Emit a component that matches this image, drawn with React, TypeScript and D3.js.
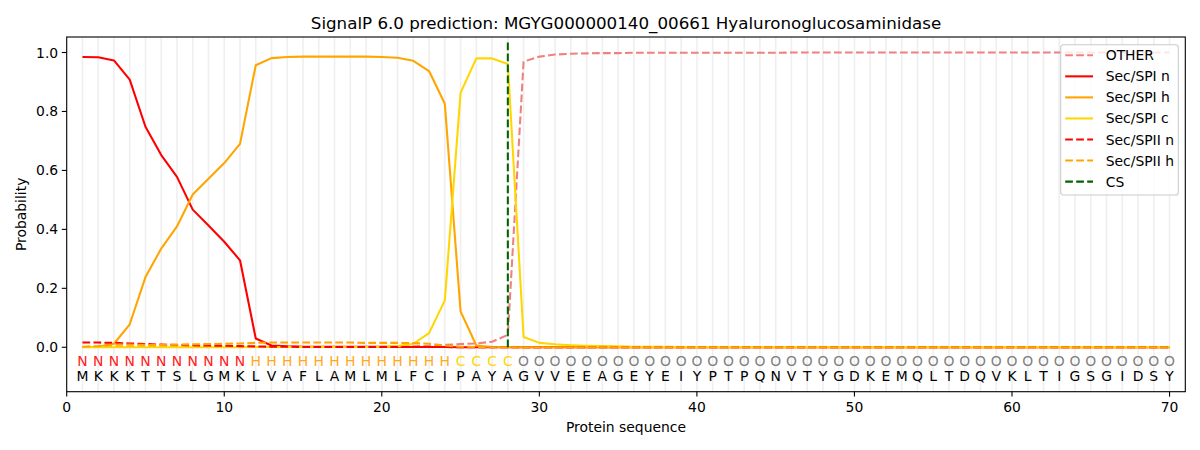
import { useEffect, useRef } from 'react';
import * as d3 from 'd3';

// ---------------------------------------------------------------------------
// Data
// ---------------------------------------------------------------------------

const TITLE = 'SignalP 6.0 prediction: MGYG000000140_00661 Hyaluronoglucosaminidase';

const SEQUENCE = 'MKKKTTSLGMKLVAFLAMLMLFCIPAYAGVVEEAGEYEIYPTPQNVTYGDKEMQLTDQVKLTIGSGIDSY'.split('');
const REGIONS = 'NNNNNNNNNNNHHHHHHHHHHHHHCCCCOOOOOOOOOOOOOOOOOOOOOOOOOOOOOOOOOOOOOOOOOO'.split('');

const OTHER = [
  0.001, 0.001, 0.001, 0.001, 0.001, 0.001, 0.001, 0.001, 0.001, 0.001,
  0.001, 0.001, 0.001, 0.001, 0.001, 0.001, 0.001, 0.001, 0.001, 0.001,
  0.002, 0.003, 0.005, 0.008, 0.011, 0.013, 0.019, 0.042, 0.969, 0.986,
  0.993, 0.996, 0.997, 0.998, 0.998, 0.999, 0.999, 0.999, 0.999, 0.999,
  0.999, 0.999, 0.999, 0.999, 0.999, 1.0, 1.0, 1.0, 1.0, 1.0,
  1.0, 1.0, 1.0, 1.0, 1.0, 1.0, 1.0, 1.0, 1.0, 1.0,
  1.0, 1.0, 1.0, 1.0, 1.0, 1.0, 1.0, 1.0, 1.0, 1.0,
];

const SPI_N = [
  0.985, 0.984, 0.973, 0.908, 0.748, 0.652, 0.578, 0.467, 0.413, 0.358,
  0.295, 0.030, 0.006, 0.003, 0.002, 0.002, 0.002, 0.002, 0.002, 0.002,
  0.002, 0.001, 0.001, 0.001, 0, 0, 0, 0, 0, 0,
  0, 0, 0, 0, 0, 0, 0, 0, 0, 0,
  0, 0, 0, 0, 0, 0, 0, 0, 0, 0,
  0, 0, 0, 0, 0, 0, 0, 0, 0, 0,
  0, 0, 0, 0, 0, 0, 0, 0, 0, 0,
];

const SPI_H = [
  0.001, 0.002, 0.012, 0.078, 0.238, 0.335, 0.410, 0.518, 0.572, 0.625,
  0.690, 0.957, 0.981, 0.985, 0.986, 0.986, 0.986, 0.986, 0.986, 0.985,
  0.982, 0.972, 0.937, 0.826, 0.122, 0.006, 0.001, 0.001, 0, 0,
  0, 0, 0, 0, 0, 0, 0, 0, 0, 0,
  0, 0, 0, 0, 0, 0, 0, 0, 0, 0,
  0, 0, 0, 0, 0, 0, 0, 0, 0, 0,
  0, 0, 0, 0, 0, 0, 0, 0, 0, 0,
];

const SPI_C = [
  0, 0, 0, 0, 0, 0, 0, 0, 0, 0,
  0, 0.001, 0.001, 0.001, 0.001, 0.001, 0.001, 0.001, 0.001, 0.002,
  0.004, 0.012, 0.048, 0.159, 0.863, 0.980, 0.980, 0.961, 0.035, 0.015,
  0.010, 0.007, 0.005, 0.004, 0.003, 0.002, 0.002, 0.002, 0.001, 0.001,
  0.001, 0.001, 0.001, 0.001, 0.001, 0.001, 0.001, 0.001, 0.001, 0.001,
  0.001, 0.001, 0.001, 0.001, 0.001, 0.001, 0.001, 0.001, 0.001, 0.001,
  0.001, 0.001, 0.001, 0.001, 0.001, 0.001, 0.001, 0.001, 0.001, 0.001,
];

const SPII_N = [
  0.016, 0.016, 0.015, 0.013, 0.011, 0.009, 0.008, 0.007, 0.006, 0.005,
  0.004, 0.003, 0.002, 0.002, 0.001, 0.001, 0.001, 0.001, 0.001, 0.001,
  0.001, 0.001, 0.001, 0.001, 0, 0, 0, 0, 0, 0,
  0, 0, 0, 0, 0, 0, 0, 0, 0, 0,
  0, 0, 0, 0, 0, 0, 0, 0, 0, 0,
  0, 0, 0, 0, 0, 0, 0, 0, 0, 0,
  0, 0, 0, 0, 0, 0, 0, 0, 0, 0,
];

const SPII_H = [
  0.002, 0.004, 0.009, 0.009, 0.008, 0.008, 0.009, 0.010, 0.011, 0.012,
  0.013, 0.015, 0.016, 0.016, 0.016, 0.016, 0.016, 0.016, 0.015, 0.015,
  0.015, 0.014, 0.012, 0.006, 0.002, 0.001, 0, 0, 0, 0,
  0, 0, 0, 0, 0, 0, 0, 0, 0, 0,
  0, 0, 0, 0, 0, 0, 0, 0, 0, 0,
  0, 0, 0, 0, 0, 0, 0, 0, 0, 0,
  0, 0, 0, 0, 0, 0, 0, 0, 0, 0,
];

const CS_POSITION = 28;

const X_TICKS = [0, 10, 20, 30, 40, 50, 60, 70];
const Y_TICKS = [0, 0.2, 0.4, 0.6, 0.8, 1.0];

// ---------------------------------------------------------------------------
// Constants
// ---------------------------------------------------------------------------

const WIDTH = 1200;
const HEIGHT = 450;
const MARGIN = { top: 37, right: 14.7, bottom: 58.3, left: 66.7 };
const FONT = 'DejaVu Sans, sans-serif';
const LW = 2.08;
const DASH = '7.7,3.3';

const REGION_COLORS: Record<string, string> = {
  N: '#ff2020',
  H: '#ffa820',
  C: '#ffd400',
  O: '#808080',
};

const SERIES = [
  { name: 'OTHER', values: OTHER, color: '#f08080', dashed: true },
  { name: 'Sec/SPI n', values: SPI_N, color: '#ff0000', dashed: false },
  { name: 'Sec/SPI h', values: SPI_H, color: '#ffa500', dashed: false },
  { name: 'Sec/SPI c', values: SPI_C, color: '#ffd700', dashed: false },
  { name: 'Sec/SPII n', values: SPII_N, color: '#ff0000', dashed: true },
  { name: 'Sec/SPII h', values: SPII_H, color: '#ffa500', dashed: true },
];

export default function App() {
  const svgRef = useRef<SVGSVGElement>(null);

  useEffect(() => {
    if (!svgRef.current) return;
    const svg = d3.select(svgRef.current);
    svg.selectAll('*').remove();

    const innerWidth = WIDTH - MARGIN.left - MARGIN.right;
    const innerHeight = HEIGHT - MARGIN.top - MARGIN.bottom;

    const xScale = d3.scaleLinear().domain([0, 71]).range([0, innerWidth]);
    const yScale = d3.scaleLinear().domain([-0.1507, 1.0526]).range([innerHeight, 0]);

    svg.append('rect').attr('width', WIDTH).attr('height', HEIGHT).attr('fill', '#fff');

    const g = svg.append('g').attr('transform', `translate(${MARGIN.left},${MARGIN.top})`);

    // Per-residue vertical guides
    g.selectAll('.guide')
      .data(SEQUENCE)
      .enter()
      .append('line')
      .attr('x1', (_, i) => xScale(i + 1))
      .attr('x2', (_, i) => xScale(i + 1))
      .attr('y1', 0)
      .attr('y2', innerHeight)
      .attr('stroke', '#efefef')
      .attr('stroke-width', 1.6);

    // Probability curves
    const line = d3
      .line<number>()
      .x((_, i) => xScale(i + 1))
      .y((d) => yScale(d));

    SERIES.forEach((s) => {
      g.append('path')
        .datum(s.values)
        .attr('d', line)
        .attr('fill', 'none')
        .attr('stroke', s.color)
        .attr('stroke-width', LW)
        .attr('stroke-linejoin', 'round')
        .attr('stroke-dasharray', s.dashed ? DASH : null);
    });

    // Cleavage site
    g.append('line')
      .attr('x1', xScale(CS_POSITION))
      .attr('x2', xScale(CS_POSITION))
      .attr('y1', yScale(0))
      .attr('y2', yScale(1.04))
      .attr('stroke', '#006400')
      .attr('stroke-width', LW)
      .attr('stroke-dasharray', DASH);

    // Region labels and residues
    g.selectAll('.region')
      .data(REGIONS)
      .enter()
      .append('text')
      .attr('x', (_, i) => xScale(i + 1))
      .attr('y', yScale(-0.063))
      .attr('text-anchor', 'middle')
      .attr('font-family', FONT)
      .attr('font-size', '13.9px')
      .attr('fill', (d) => REGION_COLORS[d])
      .text((d) => d);

    g.selectAll('.residue')
      .data(SEQUENCE)
      .enter()
      .append('text')
      .attr('x', (_, i) => xScale(i + 1))
      .attr('y', yScale(-0.113))
      .attr('text-anchor', 'middle')
      .attr('font-family', FONT)
      .attr('font-size', '13.9px')
      .attr('fill', '#000')
      .text((d) => d);

    // Axes frame
    g.append('rect')
      .attr('width', innerWidth)
      .attr('height', innerHeight)
      .attr('fill', 'none')
      .attr('stroke', '#000')
      .attr('stroke-width', 1.1);

    // X ticks
    const xt = g.selectAll('.xtick').data(X_TICKS).enter().append('g')
      .attr('transform', (d) => `translate(${xScale(d)},${innerHeight})`);
    xt.append('line').attr('y2', 4.9).attr('stroke', '#000').attr('stroke-width', 1.1);
    xt.append('text')
      .attr('y', 20)
      .attr('text-anchor', 'middle')
      .attr('font-family', FONT)
      .attr('font-size', '13.9px')
      .attr('fill', '#000')
      .text((d) => d);

    // Y ticks
    const yt = g.selectAll('.ytick').data(Y_TICKS).enter().append('g')
      .attr('transform', (d) => `translate(0,${yScale(d)})`);
    yt.append('line').attr('x2', -4.9).attr('stroke', '#000').attr('stroke-width', 1.1);
    yt.append('text')
      .attr('x', -8.5)
      .attr('y', 5)
      .attr('text-anchor', 'end')
      .attr('font-family', FONT)
      .attr('font-size', '13.9px')
      .attr('fill', '#000')
      .text((d) => d.toFixed(1));

    // Axis labels
    g.append('text')
      .attr('x', innerWidth / 2)
      .attr('y', innerHeight + 40.5)
      .attr('text-anchor', 'middle')
      .attr('font-family', FONT)
      .attr('font-size', '13.9px')
      .attr('fill', '#000')
      .text('Protein sequence');

    g.append('text')
      .attr('transform', 'rotate(-90)')
      .attr('x', -innerHeight / 2)
      .attr('y', -40.5)
      .attr('text-anchor', 'middle')
      .attr('font-family', FONT)
      .attr('font-size', '13.9px')
      .attr('fill', '#000')
      .text('Probability');

    // Title
    svg.append('text')
      .attr('x', MARGIN.left + innerWidth / 2)
      .attr('y', 29)
      .attr('text-anchor', 'middle')
      .attr('font-family', FONT)
      .attr('font-size', '16.7px')
      .attr('fill', '#000')
      .text(TITLE);

    // Legend
    const legendItems = [
      ...SERIES.map((s) => ({ name: s.name, color: s.color, dashed: s.dashed })),
      { name: 'CS', color: '#006400', dashed: true },
    ];
    const legend = svg.append('g').attr('transform', 'translate(1060.7,44.7)');
    legend.append('rect')
      .attr('width', 117.6)
      .attr('height', 150.3)
      .attr('rx', 2.8)
      .attr('fill', 'rgba(255,255,255,0.8)')
      .attr('stroke', '#cccccc')
      .attr('stroke-width', 1.1);
    const rows = legend.selectAll('.legend-row').data(legendItems).enter().append('g')
      .attr('transform', (_, i) => `translate(0,${10.6 + i * 21.05})`);
    rows.append('line')
      .attr('x1', 4.5)
      .attr('x2', 32.3)
      .attr('stroke', (d) => d.color)
      .attr('stroke-width', LW)
      .attr('stroke-dasharray', (d) => (d.dashed ? DASH : null));
    rows.append('text')
      .attr('x', 45)
      .attr('y', 5)
      .attr('font-family', FONT)
      .attr('font-size', '13.9px')
      .attr('fill', '#000')
      .text((d) => d.name);
  }, []);

  return (
    <svg
      ref={svgRef}
      width={WIDTH}
      height={HEIGHT}
      style={{ position: 'absolute', left: 0, top: 0 }}
    />
  );
}
